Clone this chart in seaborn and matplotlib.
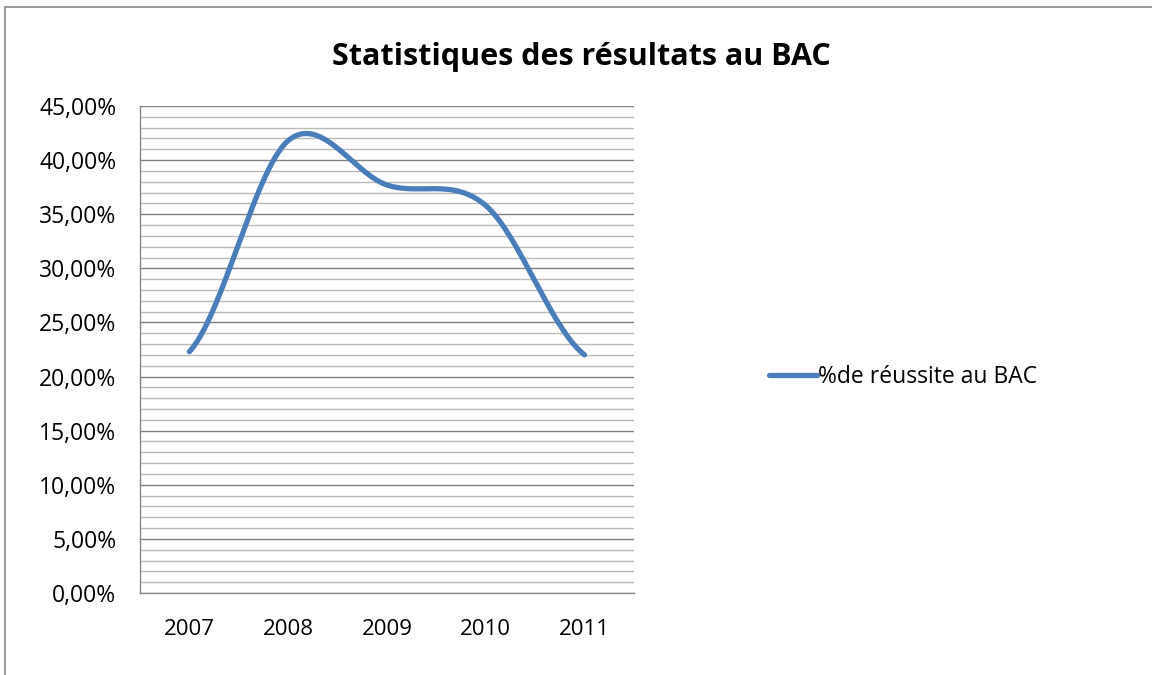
import numpy as np
import pandas as pd
import matplotlib
matplotlib.use("Agg")
import matplotlib.pyplot as plt
import seaborn as sns
from matplotlib.ticker import FuncFormatter, MultipleLocator, FixedLocator
from matplotlib.lines import Line2D
from matplotlib.patches import Rectangle

years = ["2007", "2008", "2009", "2010", "2011"]
taux = [22.3, 41.8, 37.7, 35.8, 22.0]  # % de réussite au BAC
serie = "%de réussite au BAC"
titre = "Statistiques des résultats au BAC"

sns.set_style("white")
plt.rcParams["font.family"] = ["Open Sans", "DejaVu Sans"]
plt.rcParams["text.color"] = "black"

# lissage façon Excel (Catmull-Rom) entre les points de la série
def lissage(y, n=60):
    y = np.asarray(y, dtype=float)
    k = len(y)
    m = np.empty(k)
    m[1:-1] = (y[2:] - y[:-2]) / 2
    m[0] = (y[1] - y[0]) / 2
    m[-1] = (y[-1] - y[-2]) / 2
    xs, ys = [], []
    for i in range(k - 1):
        t = np.linspace(0, 1, n, endpoint=(i == k - 2))
        h00 = 2 * t**3 - 3 * t**2 + 1
        h10 = t**3 - 2 * t**2 + t
        h01 = -2 * t**3 + 3 * t**2
        h11 = t**3 - t**2
        xs.append(i + t)
        ys.append(h00 * y[i] + h10 * m[i] + h01 * y[i + 1] + h11 * m[i + 1])
    return np.concatenate(xs), np.concatenate(ys)

cx, cy = lissage(taux)
df = pd.DataFrame({"x": cx, "y": cy})

fig = plt.figure(figsize=(11.52, 6.75), dpi=100)
ax = fig.add_axes([140 / 1152, 1 - 593 / 675, (634 - 140) / 1152, (593 - 106) / 675])

sns.lineplot(data=df, x="x", y="y", ax=ax, color="#4a7ebb", linewidth=3.8,
             sort=False, estimator=None, solid_capstyle="round", zorder=3)

ax.set_xlim(-0.5, len(years) - 0.5)
ax.set_ylim(0, 45)
ax.set_xlabel("")
ax.set_ylabel("")

ax.yaxis.set_major_locator(MultipleLocator(5))
ax.yaxis.set_minor_locator(MultipleLocator(1))
ax.yaxis.set_major_formatter(FuncFormatter(lambda v, p: f"{v:.2f}%".replace(".", ",")))
ax.grid(which="major", axis="y", color="#808080", linewidth=1.0, zorder=0)
ax.grid(which="minor", axis="y", color="#b9b9b9", linewidth=1.0, zorder=0)
ax.grid(which="both", axis="x", visible=False)

ax.xaxis.set_major_locator(FixedLocator(np.arange(-0.5, len(years), 1.0)))
ax.xaxis.set_major_formatter(FuncFormatter(lambda v, p: ""))
ax.xaxis.set_minor_locator(FixedLocator(range(len(years))))
ax.set_xticklabels(years, minor=True)
ax.tick_params(axis="x", which="major", direction="out", length=5, width=1, color="#868686")
ax.tick_params(axis="x", which="minor", length=0, pad=19, labelsize=16, labelcolor="black")
ax.tick_params(axis="y", which="major", direction="out", length=5, width=1,
               color="#868686", pad=12, labelsize=16.5, labelcolor="black")
ax.tick_params(axis="y", which="minor", length=0)

for s in ["top", "right"]:
    ax.spines[s].set_visible(False)
for s in ["left", "bottom"]:
    ax.spines[s].set_color("#868686")
    ax.spines[s].set_linewidth(1.0)

fig.text(581 / 1152, 1 - 57 / 675, titre, ha="center", va="center",
         fontsize=22, fontweight="bold", color="black")

handle = Line2D([], [], color="#4a7ebb", linewidth=3.8, solid_capstyle="round")
fig.legend([handle], [serie], loc="center left",
           bbox_to_anchor=(760 / 1152, 1 - 377 / 675), frameon=False,
           fontsize=16.5, handlelength=2.1, handletextpad=0.05, borderaxespad=0,
           labelcolor="black")

fig.patches.append(Rectangle((5 / 1152, -0.01), 1.1, 1 - 7 / 675 + 0.01,
                             transform=fig.transFigure, fill=False,
                             edgecolor="#868686", linewidth=1.2))

fig.savefig("out.png", dpi=100)
